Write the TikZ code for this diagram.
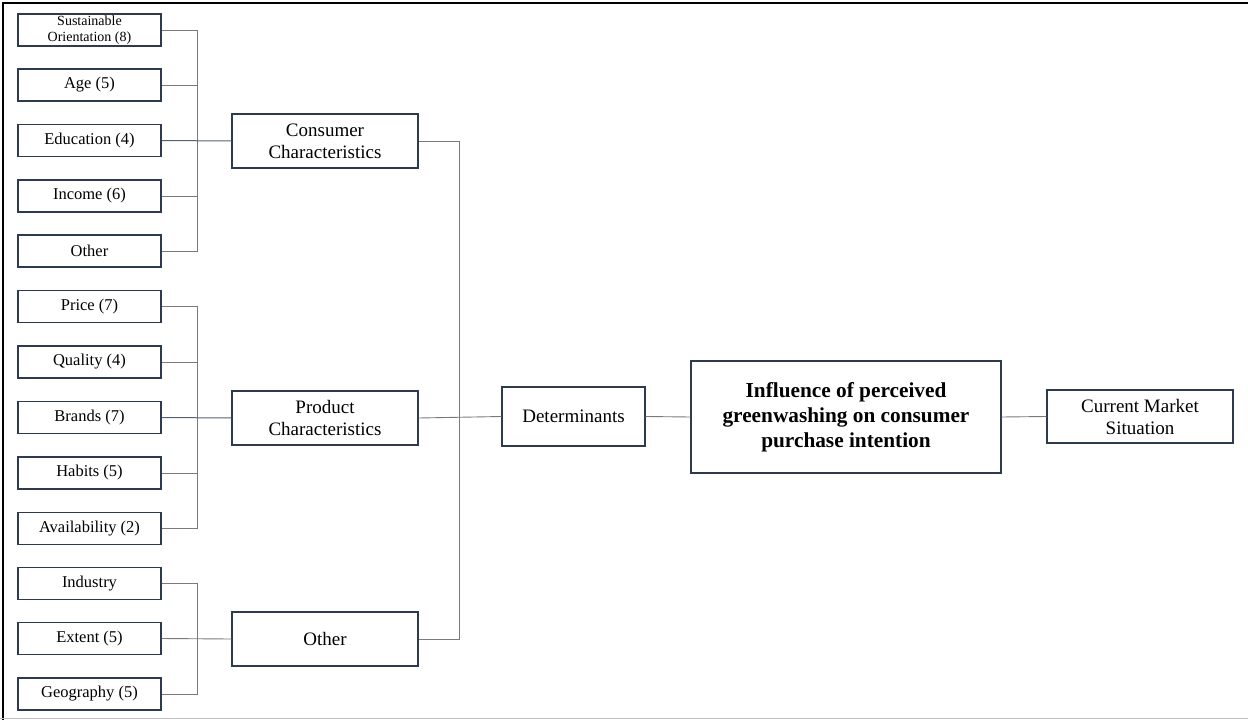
\documentclass[tikz,border=0pt]{standalone}
\usepackage{fontspec}
\setmainfont{Liberation Serif}
\definecolor{boxc}{HTML}{2E3A50}
\definecolor{linec}{HTML}{7A7A7A}
\begin{document}
\begin{tikzpicture}[x=1pt,y=-1pt,
  leaf/.style={draw=boxc, line width=1.1pt, fill=white, inner sep=0pt, minimum width=143pt, minimum height=32pt, align=center, font=\fontsize{16.5}{17}\selectfont},
  mid/.style={draw=boxc, line width=1.1pt, fill=white, inner sep=0pt, minimum width=186pt, minimum height=54pt, align=center, font=\fontsize{19}{22}\selectfont},
  conn/.style={draw=linec, line width=0.9pt},
  dconn/.style={draw=boxc!80, line width=1pt}]
\useasboundingbox (0,0) rectangle (1248,720);
\draw[black, line width=1.4pt] (3,720) -- (3,3) -- (1248,3);
\draw[black!25, line width=1pt] (0,718.5) -- (1248,718.5);

% leaves
\node[leaf, font=\fontsize{14}{15.5}\selectfont] (s1) at (89.5,30) {Sustainable\\Orientation (8)};
\node[leaf] (s2) at (89.5,85) {Age (5)};
\node[leaf] (s3) at (89.5,140.5) {Education (4)};
\node[leaf] (s4) at (89.5,196) {Income (6)};
\node[leaf] (s5) at (89.5,251) {Other};
\node[leaf] (p1) at (89.5,306.5) {Price (7)};
\node[leaf] (p2) at (89.5,362) {Quality (4)};
\node[leaf] (p3) at (89.5,417.5) {Brands (7)};
\node[leaf] (p4) at (89.5,473) {Habits (5)};
\node[leaf] (p5) at (89.5,528.5) {Availability (2)};
\node[leaf] (o1) at (89.5,583.5) {Industry};
\node[leaf] (o2) at (89.5,638.5) {Extent (5)};
\node[leaf] (o3) at (89.5,694) {Geography (5)};

% middle
\node[mid] (cc) at (325,141) {Consumer\\Characteristics};
\node[mid] (pc) at (325,418) {Product\\Characteristics};
\node[mid] (ot) at (325,639) {Other};

\node[leaf, minimum height=59pt, font=\fontsize{19}{22}\selectfont] (det) at (573.5,416.5) {Determinants};
\node[draw=boxc, line width=1.1pt, fill=white, inner sep=0pt, minimum width=310pt, minimum height=112pt, align=center, font=\fontsize{21.3}{25}\selectfont\bfseries] (inf) at (846,417) {Influence of perceived\\greenwashing on consumer\\purchase intention};
\node[mid, minimum height=53pt] (cms) at (1140,416.5) {Current Market\\Situation};

\coordinate (b1) at (197.5,0);
\coordinate (b2) at (459.5,0);

% consumer bracket
\foreach \n in {s1,s2,s4,s5} \draw[conn] (\n.east) -- (\n.east -| b1);
\draw[conn] (s1.east -| b1) -- (s5.east -| b1);
\draw[dconn] (s3.east) -- (cc.west);
% product bracket
\foreach \n in {p1,p2,p4,p5} \draw[conn] (\n.east) -- (\n.east -| b1);
\draw[conn] (p1.east -| b1) -- (p5.east -| b1);
\draw[dconn] (p3.east) -- (pc.west);
% other bracket
\foreach \n in {o1,o3} \draw[conn] (\n.east) -- (\n.east -| b1);
\draw[conn] (o1.east -| b1) -- (o3.east -| b1);
\draw[conn] (o2.east) -- (ot.west);
% right bracket
\draw[conn] (cc.east) -- (cc.east -| b2) -- (ot.east -| b2) -- (ot.east);
\draw[conn] (pc.east) -- (det.west);
\draw[conn] (det.east) -- (inf.west);
\draw[conn] (inf.east) -- (cms.west);
\end{tikzpicture}
\end{document}
